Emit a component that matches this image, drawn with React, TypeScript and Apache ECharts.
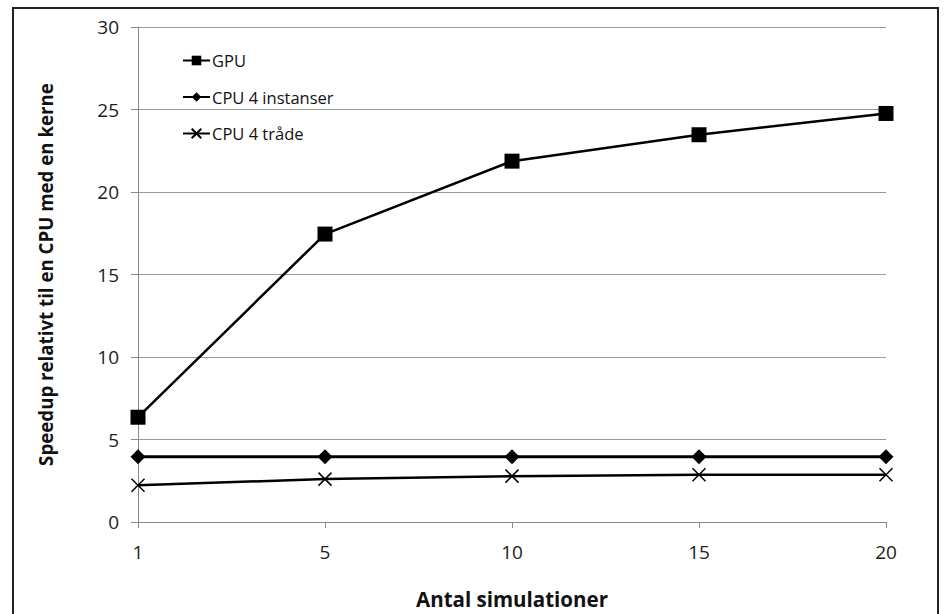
import React, { useEffect, useRef } from "react";
import * as echarts from "echarts";

const categories = ["1", "5", "10", "15", "20"];
const gpu = [6.35, 17.45, 21.87, 23.47, 24.76];
const cpuInstanser = [3.95, 3.95, 3.95, 3.95, 3.95];
const cpuTraade = [2.23, 2.6, 2.78, 2.86, 2.86];
const seriesNames = ["GPU", "CPU 4 instanser", "CPU 4 tråde"];
const yTicks = { min: 0, max: 30, interval: 5 };

const FONT = "'Open Sans', 'Noto Sans', sans-serif";
const X_PATH = "path://M0,0L10,10M10,0L0,10";

export default function App() {
  const ref = useRef<HTMLDivElement>(null);
  useEffect(() => {
    if (!ref.current) return;
    const chart = echarts.init(ref.current, undefined, { renderer: "svg" });
    const lineCommon = {
      type: "line",
      showSymbol: true,
      symbolKeepAspect: true,
    };
    chart.setOption({
      animation: false,
      backgroundColor: "#fff",
      textStyle: { fontFamily: FONT },
      graphic: [
        {
          type: "rect",
          shape: { x: 13, y: 8, width: 925, height: 620 },
          style: { fill: "none", stroke: "#222", lineWidth: 2 },
          silent: true,
        },
      ],
      legend: {
        orient: "vertical",
        left: 177,
        top: 47,
        itemGap: 19.5,
        itemWidth: 27,
        itemHeight: 12,
        textStyle: { fontFamily: FONT, fontSize: 16.5, color: "#111", padding: [0, 0, 0, -3] },
        data: seriesNames,
      },
      grid: { left: 138, right: 58, top: 27, bottom: 92, containLabel: false },
      xAxis: {
        type: "category",
        data: categories,
        boundaryGap: false,
        name: "Antal simulationer",
        nameLocation: "middle",
        nameGap: 66,
        nameTextStyle: { fontFamily: FONT, fontSize: 20.5, fontWeight: "bold", color: "#111" },
        axisLine: { lineStyle: { color: "#888", width: 1 } },
        axisTick: { show: true, length: 6, lineStyle: { color: "#888" } },
        axisLabel: { fontFamily: FONT, fontSize: 19, color: "#222", margin: 20 },
        splitLine: { show: false },
      },
      yAxis: {
        type: "value",
        min: yTicks.min,
        max: yTicks.max,
        interval: yTicks.interval,
        name: "Speedup relativt til en CPU med en kerne",
        nameLocation: "middle",
        nameGap: 83,
        nameTextStyle: { fontFamily: FONT, fontSize: 18.7, fontWeight: "bold", color: "#111" },
        axisLine: { show: true, lineStyle: { color: "#888", width: 1 } },
        axisTick: { show: true, length: 7, lineStyle: { color: "#888" } },
        axisLabel: { fontFamily: FONT, fontSize: 19, color: "#222", margin: 19 },
        splitLine: { show: true, lineStyle: { color: "#999", width: 1 } },
      },
      series: [
        {
          ...lineCommon,
          name: seriesNames[0],
          data: gpu,
          symbol: "rect",
          symbolSize: 15,
          itemStyle: { color: "#000" },
          lineStyle: { color: "#000", width: 2.5 },
        },
        {
          ...lineCommon,
          name: seriesNames[1],
          data: cpuInstanser,
          symbol: "diamond",
          symbolSize: [15, 15],
          itemStyle: { color: "#000" },
          lineStyle: { color: "#000", width: 3 },
        },
        {
          ...lineCommon,
          name: seriesNames[2],
          data: cpuTraade,
          symbol: X_PATH,
          symbolSize: 13,
          itemStyle: { color: "#000", borderColor: "#000", borderWidth: 1.5 },
          lineStyle: { color: "#000", width: 2.5 },
        },
      ],
    });
    return () => chart.dispose();
  }, []);
  return (
    <div
      ref={ref}
      style={{ position: "fixed", left: 0, top: 0, width: 944, height: 614 }}
    />
  );
}
